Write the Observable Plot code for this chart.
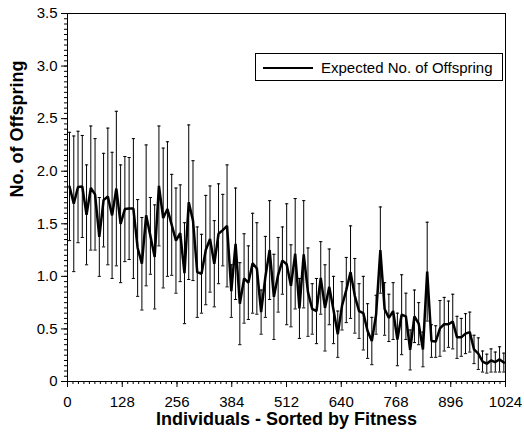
<!DOCTYPE html>
<html>
<head>
<meta charset="utf-8">
<script src="https://cdn.jsdelivr.net/npm/d3@7"></script>
<script src="https://cdn.jsdelivr.net/npm/@observablehq/plot@0.6"></script>
<style>
  html, body { margin: 0; padding: 0; background: #fff; }
  #chart { width: 524px; height: 434px; }
</style>
</head>
<body>
<div id="chart"></div>
<script>
// Mean expected number of offspring per individual (ranked by fitness)
const meanOffspring = [
  1.855, 1.69, 1.85, 1.855, 1.585, 1.84, 1.78, 1.375, 1.725, 1.76,
  1.58, 1.835, 1.50, 1.64, 1.645, 1.645, 1.27, 1.12, 1.58, 1.385,
  1.185, 1.86, 1.555, 1.64, 1.49, 1.34, 1.41, 1.03, 1.705, 1.53,
  1.04, 1.025, 1.25, 1.355, 1.12, 1.405, 1.44, 1.48, 0.86, 1.31,
  0.74, 0.98, 0.94, 1.125, 1.075, 0.66, 0.995, 1.25, 0.805, 1.015,
  1.15, 1.115, 0.91, 1.215, 0.695, 1.21, 0.85, 0.69, 0.67, 0.985,
  0.70, 0.90, 0.68, 0.45, 0.72, 0.87, 1.04, 0.815, 0.67, 0.65,
  0.48, 0.385, 0.635, 1.25, 0.69, 0.605, 0.67, 0.40, 0.635, 0.62,
  0.30, 0.62, 0.55, 0.305, 1.045, 0.385, 0.38, 0.505, 0.545, 0.545,
  0.57, 0.42, 0.42, 0.455, 0.47, 0.305, 0.265, 0.19, 0.17, 0.20,
  0.185, 0.21, 0.18
];

// Standard deviation of the offspring count (half-length of each error bar)
const sdOffspring = [
  0.515, 0.645, 0.53, 0.485, 0.475, 0.59, 0.53, 0.375, 0.445, 0.65,
  0.60, 0.735, 0.56, 0.50, 0.485, 0.665, 0.46, 0.44, 0.67, 0.365,
  0.495, 0.57, 0.665, 0.64, 0.48, 0.50, 0.46, 0.48, 0.735, 0.57,
  0.43, 0.375, 0.52, 0.505, 0.41, 0.475, 0.34, 0.58, 0.25, 0.53,
  0.39, 0.425, 0.35, 0.475, 0.435, 0.21, 0.385, 0.47, 0.405, 0.355,
  0.32, 0.575, 0.39, 0.525, 0.285, 0.51, 0.42, 0.24, 0.31, 0.345,
  0.41, 0.36, 0.32, 0.22, 0.23, 0.31, 0.44, 0.355, 0.26, 0.35,
  0.26, 0.225, 0.185, 0.41, 0.25, 0.225, 0.27, 0.25, 0.38, 0.22,
  0.19, 0.25, 0.20, 0.165, 0.47, 0.155, 0.15, 0.265, 0.255, 0.22,
  0.26, 0.20, 0.18, 0.19, 0.19, 0.135, 0.15, 0.10, 0.09, 0.11,
  0.095, 0.12, 0.09
];

// Rank positions of the sampled individuals along the sorted population
const individual = d3.range(meanOffspring.length).map(i => 4.7 + i * 9.955);

// Axis ticks
const xTicks = [0, 128, 256, 384, 512, 640, 768, 896, 1024];
const xMinorTicks = d3.range(0, 1024.01, 12.8);
const yTicks = [0, 0.5, 1.0, 1.5, 2.0, 2.5, 3.0, 3.5];
const yMinorTicks = d3.range(0, 3.501, 0.05);

const xLabel = "Individuals - Sorted by Fitness";
const yLabel = "No. of Offspring";
const seriesName = "Expected No. of Offspring";

const rows = individual.map((x, i) => ({
  x,
  mean: meanOffspring[i],
  lo: meanOffspring[i] - sdOffspring[i],
  hi: meanOffspring[i] + sdOffspring[i]
}));

// Short horizontal cap for the error bars
const capSymbol = {
  draw(context, size) {
    const r = Math.sqrt(size / Math.PI);
    context.moveTo(-r, 0);
    context.lineTo(r, 0);
  }
};

const font = "'Liberation Sans', Arial, Helvetica, sans-serif";

const chart = Plot.plot({
  width: 524,
  height: 434,
  marginLeft: 67,
  marginRight: 19,
  marginTop: 13,
  marginBottom: 53,
  x: {domain: [0, 1024]},
  y: {domain: [0, 3.5]},
  style: {fontFamily: font, fontSize: "15px", color: "black", background: "white"},
  marks: [
    Plot.axisX(xMinorTicks, {tickSize: 3, tickFormat: () => "", label: null}),
    Plot.axisX(xTicks, {tickSize: 6, tickPadding: 9, tickFormat: d => String(d), label: null}),
    Plot.axisY(yMinorTicks, {tickSize: 3, tickFormat: () => "", label: null}),
    Plot.axisY(yTicks, {tickSize: 6, tickPadding: 4, tickFormat: d => d === 0 ? "0" : d.toFixed(1), label: null}),
    Plot.ruleX(rows, {x: "x", y1: "lo", y2: "hi", stroke: "black", strokeWidth: 1}),
    Plot.dot(rows, {x: "x", y: "hi", symbol: capSymbol, r: 1.6, stroke: "black", strokeWidth: 1, fill: "none"}),
    Plot.dot(rows, {x: "x", y: "lo", symbol: capSymbol, r: 1.6, stroke: "black", strokeWidth: 1, fill: "none"}),
    Plot.line(rows, {x: "x", y: "mean", stroke: "black", strokeWidth: 2.5, strokeLinejoin: "miter"}),
    Plot.frame({stroke: "black", strokeWidth: 1}),
    Plot.text([xLabel], {frameAnchor: "bottom", dy: 43, text: d => d, fontWeight: "bold", fontSize: 18}),
    Plot.text([yLabel], {frameAnchor: "left", dx: -50, rotate: -90, text: d => d, fontWeight: "bold", fontSize: 18})
  ]
});

document.getElementById("chart").appendChild(chart);

// Legend box in the upper right of the plot area
const svg = d3.select(chart);
const legend = svg.append("g")
  .attr("font-family", font)
  .attr("font-size", 15)
  .attr("text-anchor", "start");
legend.append("rect")
  .attr("x", 255.5).attr("y", 53.5).attr("width", 247).attr("height", 27)
  .attr("fill", "white").attr("stroke", "black").attr("stroke-width", 1);
legend.append("line")
  .attr("x1", 263).attr("x2", 313).attr("y1", 68).attr("y2", 68)
  .attr("stroke", "black").attr("stroke-width", 2);
legend.append("text")
  .attr("x", 321).attr("y", 73.3).attr("fill", "black")
  .attr("text-anchor", "start")
  .text(seriesName);
</script>
</body>
</html>
